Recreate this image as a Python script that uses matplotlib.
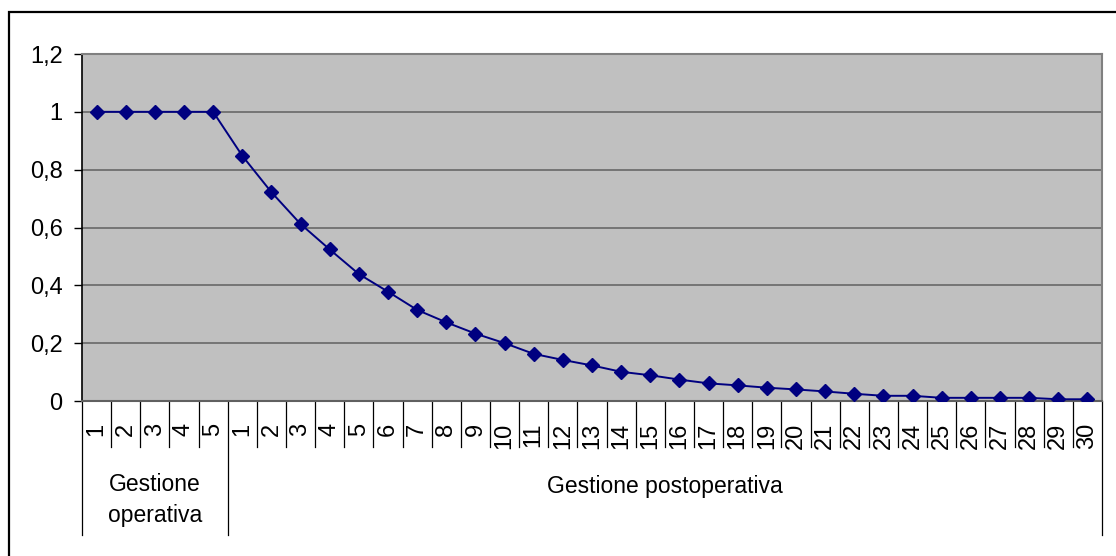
import matplotlib
matplotlib.use("Agg")
import matplotlib.pyplot as plt
from matplotlib.patches import Rectangle
from matplotlib.ticker import FixedLocator, FuncFormatter

plt.rcParams["font.family"] = ["Liberation Sans", "DejaVu Sans"]

# fasi e periodi (anni) sull'asse delle categorie
groups = ["Gestione\noperativa", "Gestione postoperativa"]
group_sizes = [5, 30]
tick_labels = [str(i) for i in range(1, 6)] + [str(i) for i in range(1, 31)]

# valori
values = [1, 1, 1, 1, 1,
          0.848, 0.722, 0.612, 0.524, 0.439, 0.378, 0.315, 0.272, 0.233, 0.200,
          0.163, 0.142, 0.123, 0.101, 0.089, 0.074, 0.061, 0.054, 0.046, 0.040,
          0.033, 0.025, 0.018, 0.018, 0.011, 0.011, 0.011, 0.011, 0.006, 0.006]

W, H = 1116, 556
fig = plt.figure(figsize=(W / 100, H / 100), dpi=100)
ax = fig.add_axes([82 / W, 1 - 401 / H, (1102 - 82) / W, 347 / H])
ax.set_facecolor("#c0c0c0")

x = list(range(len(values)))
ax.plot(x, values, color="#000080", lw=1.4, marker="D", ms=6.8,
        markerfacecolor="#000080", markeredgecolor="#000080", zorder=3)

ax.set_xlim(-0.5, len(values) - 0.5)
ax.set_ylim(0, 1.2)
ax.yaxis.set_major_locator(FixedLocator([0, 0.2, 0.4, 0.6, 0.8, 1.0, 1.2]))
ax.yaxis.set_major_formatter(FuncFormatter(
    lambda v, p: "0" if v == 0 else ("1" if abs(v - 1) < 1e-9 else f"{v:.1f}".replace(".", ","))))
ax.grid(axis="y", color="#606060", lw=1.1)
ax.set_axisbelow(True)
ax.tick_params(axis="y", length=6, width=1, color="black", pad=8, labelsize=17)

ax.set_xticks(x)
ax.set_xticklabels(tick_labels, rotation=90, fontsize=17)
ax.tick_params(axis="x", length=0, pad=15.5)
for lbl in ax.get_xticklabels():
    lbl.set_verticalalignment("top")
    lbl.set_horizontalalignment("center")

for side in ["top", "right"]:
    ax.spines[side].set_color("#808080")
    ax.spines[side].set_linewidth(1.5)
ax.spines["bottom"].set_color("#606060")
ax.spines["bottom"].set_linewidth(1.5)
ax.spines["left"].set_color("black")
ax.spines["left"].set_linewidth(1.2)

trans = ax.get_xaxis_transform()
short = -46 / 347
long_ = -134 / 347
bounds = [-0.5]
for s in group_sizes:
    bounds.append(bounds[-1] + s)
for i in range(len(values) + 1):
    b = i - 0.5
    y0 = long_ if b in bounds else short
    ax.plot([b, b], [0, y0], color="black", lw=0.9, transform=trans, clip_on=False)

for name, lo, hi in zip(groups, bounds[:-1], bounds[1:]):
    ypos = -99 / 347 if "\n" in name else -86 / 347
    ax.text((lo + hi) / 2, ypos, name, transform=trans, ha="center", va="center",
            fontsize=16.5, linespacing=1.4)

# cornice esterna del grafico
fig.patches.append(Rectangle((9 / W, -0.1), 1.2, 1 - 12 / H + 0.1, fill=False,
                             edgecolor="black", lw=1.6, transform=fig.transFigure))

fig.savefig("out.png", dpi=100)
